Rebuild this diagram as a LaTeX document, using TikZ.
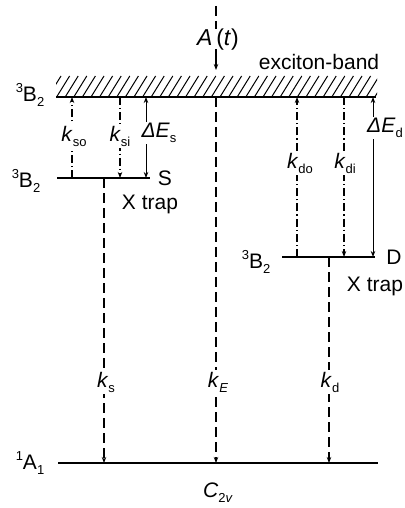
\documentclass[tikz,border=0pt]{standalone}
\usepackage{fontspec}
\setmainfont{Liberation Sans}
\usetikzlibrary{arrows.meta}
\newcommand\sbs[1]{\raisebox{-0.45ex}{\fontsize{13}{14}\selectfont #1}}
\newcommand\sps[1]{\raisebox{0.8ex}{\fontsize{13}{14}\selectfont #1}}
\begin{document}
\begin{tikzpicture}[x=1pt,y=-1pt,
 lvl/.style={line width=2.2pt},
 tipend/.style={-{Stealth[length=6pt,width=4.5pt]}},
 bothtip/.style={{Stealth[length=6pt,width=4.5pt]}-{Stealth[length=6pt,width=4.5pt]}},
 dashln/.style={line width=1.3pt, dash pattern=on 10pt off 5pt},
 dashdot/.style={line width=1.1pt, dash pattern=on 8pt off 3pt on 1.2pt off 3pt},
 solidln/.style={line width=1pt},
 lab/.style={fill=white, inner sep=1.5pt, font=\fontsize{21}{24}\selectfont},
 txt/.style={inner sep=0pt, font=\fontsize{21}{24}\selectfont}]
\useasboundingbox (0,0) rectangle (404,508);
\fill[white] (0,0) rectangle (404,508);

% levels
\coordinate (bandL) at (56,97);  \coordinate (bandR) at (376,97);
\coordinate (sL) at (57,178);    \coordinate (sR) at (150,178);
\coordinate (dL) at (282,257);   \coordinate (dR) at (375,257);
\coordinate (gL) at (58,463);    \coordinate (gR) at (378,463);

\begin{scope}
\clip (56,76) rectangle (377,97);
\foreach \x in {48,56.6,...,392} \draw[line width=1pt] (\x,97) -- (\x+13,76);
\end{scope}
\draw[lvl] (bandL) -- (bandR);
\draw[lvl] (sL) -- (sR);
\draw[lvl] (dL) -- (dR);
\draw[lvl] (gL) -- (gR);

% level labels
\node[txt] (bB) at (30,95) {\sps{3}B\sbs{2}};
\node[txt] (sB) at (26,181) {\sps{3}B\sbs{2}};
\node[txt] (dB) at (256,262) {\sps{3}B\sbs{2}};
\node[txt] (gA) at (30,463) {\sps{1}A\sbs{1}};
\node[txt] (sS) at (165,178) {S};
\node[txt] (sX) at (150,204) {X trap};
\node[txt] (dD) at (394,257) {D};
\node[txt] (dX) at (375,286) {X trap};
\node[txt] (exb) at (319,62) {exciton-band};
\node[txt] (c2v) at (218,493) {\textit{C}\sbs{2\textit{v}}};

% A(t)
\coordinate (at0) at (216,6);
\node[txt, font=\fontsize{23}{26}\selectfont] (At) at (218,40) {\textit{A}\,(\textit{t})};
\coordinate (at1) at (216,70);
\draw[dashln] (at0) -- (at0 |- At.north);
\draw[tipend, line width=1.3pt] ([yshift=2pt]at1 |- At.south) -- (at1);

% S trap transitions
\coordinate (so0) at (72,178); \coordinate (so1) at (72,97);
\coordinate (si0) at (120,97); \coordinate (si1) at (120,178);
\coordinate (es0) at (146,97); \coordinate (es1) at (146,178);
\draw[dashdot, tipend] (so0) -- (so1);
\draw[dashdot, tipend] (si0) -- (si1);
\draw[solidln, bothtip] (es1) -- (es0);
\node[lab] (kso) at (74,136) {\textit{k}\sbs{so}};
\node[lab] (ksi) at (120,136) {\textit{k}\sbs{si}};
\node[lab] (des) at (159,133) {\textit{ΔE}\sbs{s}};

% D trap transitions
\coordinate (do0) at (297,257); \coordinate (do1) at (297,97);
\coordinate (di0) at (344,97);  \coordinate (di1) at (344,257);
\coordinate (ed0) at (373,97);  \coordinate (ed1) at (373,257);
\draw[dashdot, tipend] (do0) -- (do1);
\draw[dashdot, tipend] (di0) -- (di1);
\draw[solidln, bothtip] (ed1) -- (ed0);
\node[lab] (kdo) at (300,163) {\textit{k}\sbs{do}};
\node[lab] (kdi) at (345,163) {\textit{k}\sbs{di}};
\node[lab] (ded) at (385,128) {\textit{ΔE}\sbs{d}};

% decays to ground
\coordinate (ks0) at (104,178); \coordinate (ks1) at (104,463);
\coordinate (ke0) at (216,97);  \coordinate (ke1) at (216,463);
\coordinate (kd0) at (329,257); \coordinate (kd1) at (329,463);
\draw[dashln, tipend] (ks0) -- (ks1);
\draw[dashln, tipend] (ke0) -- (ke1);
\draw[dashln, tipend] (kd0) -- (kd1);
\node[lab] (ks) at (106,382) {\textit{k}\sbs{s}};
\node[lab] (kE) at (218,382) {\textit{k}\sbs{\textit{E}}};
\node[lab] (kd) at (330,382) {\textit{k}\sbs{d}};
\end{tikzpicture}
\end{document}
